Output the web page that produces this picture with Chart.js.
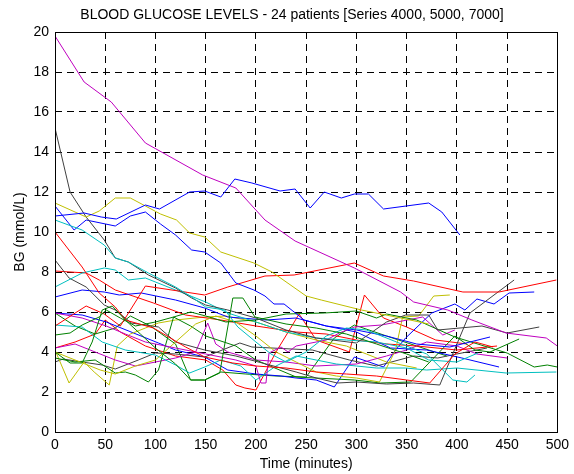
<!DOCTYPE html>
<html>
<head>
<meta charset="utf-8">
<title>Blood glucose levels</title>
<script src="https://cdn.jsdelivr.net/npm/chart.js@4.4.0/dist/chart.umd.min.js"></script>
<style>
    html, body { margin: 0; padding: 0; background: #fff; }
</style>
</head>
<body>
<canvas id="bgChart" width="574" height="474"></canvas>
<script>
// [time (min), BG (mmol/L)] per patient
const b1 = [[0,10.8],[29,10.95],[46,10.75],[61,10.65],[90,11.35],[104,11.15],[134,12.0],[149,12.05],[165,11.75],[179,12.65],[196,12.45],[224,12.05],[239,12.15],[254,11.2],[268,12.0],[285,11.7],[298,11.9],[312,11.9],[327,11.15],[372,11.45],[385,11.0],[403,9.85]];
const g1 = [[0,4.0],[15,3.45],[27,3.45],[37,4.5],[47,6.1],[57,6.3],[70,5.6],[85,4.9],[100,4.2],[120,3.4],[135,2.6],[149,2.6],[164,2.95],[177,6.7],[187,6.7],[199,5.75],[230,5.4],[260,5.2],[290,4.9],[320,4.4],[350,3.9],[372,3.5]];
const r1 = [[0,10.0],[27,8.25],[44,6.95],[60,6.25],[70,5.6],[98,5.2],[130,4.25],[149,3.75],[177,3.45],[200,3.3],[230,3.2],[260,3.0],[290,2.9],[320,2.8],[350,2.6],[373,2.45],[398,3.9],[418,4.5],[436,4.25]];
const c1 = [[0,10.6],[27,10.1],[49,9.35],[60,8.7],[73,8.5],[93,7.95],[120,7.25],[136,6.75],[150,6.25],[169,6.1],[182,5.25],[200,4.5],[215,3.9],[230,3.5],[250,4.0],[270,4.8],[290,5.2],[310,5.1],[340,4.5],[370,3.9],[396,2.6],[410,2.5],[418,2.85]];
const m1 = [[0,19.8],[29,17.5],[56,16.5],[90,14.45],[147,12.85],[180,12.2],[209,10.6],[239,9.55],[298,8.2],[344,7.0],[357,6.5],[391,6.1],[415,5.6],[449,4.95],[489,4.7],[500,4.3]];
const y1 = [[0,11.45],[31,10.75],[44,11.05],[60,11.7],[75,11.7],[105,10.9],[121,10.6],[134,9.95],[149,9.75],[165,9.0],[198,8.45],[216,8.0],[250,6.8],[265,6.6],[305,6.1],[344,5.7],[372,5.4]];
const k1 = [[0,15.2],[15,12.0],[31,10.75],[49,9.6],[60,8.7],[73,8.5],[93,7.85],[120,7.2],[136,6.7],[150,6.35],[172,6.1],[200,5.7],[230,5.1],[260,4.7],[300,4.45],[330,5.5],[349,5.85],[372,5.85],[381,5.1],[425,5.3],[450,4.95],[482,5.25]];
const b2 = [[0,11.3],[19,10.1],[31,10.6],[60,10.3],[75,10.8],[90,11.0],[105,10.4],[120,9.85],[136,9.1],[149,9.0],[165,8.45],[180,7.45],[198,7.1],[209,6.8],[218,6.4],[228,6.4],[248,5.6],[270,5.3],[300,5.1],[330,4.8],[360,4.4],[393,4.25],[433,4.75]];
const g2 = [[0,4.85],[15,4.95],[27,5.35],[44,5.75],[51,6.1],[65,5.7],[80,5.3],[100,5.5],[118,5.75],[135,6.0],[150,5.8],[170,5.5],[200,5.6],[230,5.9],[268,5.95],[300,6.05],[320,5.7],[330,5.9],[360,5.6],[398,4.75],[450,3.95],[477,3.25],[490,3.35],[500,3.25]];
const r2 = [[0,5.3],[31,6.3],[49,5.9],[65,5.3],[90,7.3],[149,6.85],[172,7.25],[209,7.8],[238,7.85],[298,8.45],[327,7.8],[357,7.55],[406,7.0],[442,7.0],[499,7.6]];
const c2 = [[0,7.25],[27,7.95],[49,8.2],[60,8.1],[73,7.6],[90,7.7],[120,7.1],[150,6.5],[172,5.95],[200,5.5],[230,5.0],[260,4.7],[290,4.6],[320,4.5],[350,4.2],[372,3.6],[400,3.5],[421,3.95]];
const m2 = [[0,5.95],[27,5.7],[51,5.3],[70,4.9],[90,4.5],[120,4.2],[150,3.9],[180,3.6],[200,3.3],[205,2.45],[210,2.45],[213,3.95],[225,4.25],[232,4.0],[240,4.3],[270,4.6],[283,4.95],[298,5.25],[325,5.35],[366,5.75],[386,4.85],[398,5.1]];
const y2 = [[0,4.0],[15,3.7],[30,3.4],[45,3.1],[60,2.9],[80,3.3],[100,3.6],[120,4.5],[140,5.4],[160,5.8],[180,5.5],[200,4.8],[220,4.0],[240,3.5],[260,3.0],[280,2.8],[300,2.7],[323,2.5],[339,4.1],[346,5.75],[362,5.8],[377,6.8],[393,6.85]];
const k2 = [[0,8.6],[14,7.7],[31,7.25],[49,6.35],[60,6.1],[76,5.45],[103,5.25],[120,4.5],[149,4.1],[180,3.8],[210,3.4],[240,3.0],[260,2.7],[281,2.45],[300,2.5],[330,2.4],[357,2.45],[383,2.35],[413,5.95],[457,7.6]];
const b3 = [[0,6.75],[27,7.1],[49,7.0],[64,6.85],[86,6.95],[120,6.6],[149,6.2],[172,5.75],[210,5.6],[240,5.7],[270,5.3],[300,5.0],[334,4.2],[370,4.1],[405,3.7],[442,3.25]];
const g3 = [[0,3.7],[20,3.5],[40,3.6],[60,2.95],[70,3.0],[80,2.85],[93,2.5],[103,3.1],[118,5.75],[135,5.3],[150,4.8],[180,4.3],[200,3.6],[240,2.75],[298,2.6],[324,2.45],[354,2.5],[398,4.8],[418,4.1],[433,4.0],[462,4.65]];
const r3 = [[0,8.05],[31,7.95],[44,7.6],[60,7.1],[98,6.45],[130,5.85],[165,5.6],[200,5.3],[240,5.0],[270,4.9],[300,4.6],[330,4.4],[360,4.3],[400,4.1],[440,4.3]];
const c3 = [[0,5.35],[27,5.25],[47,4.5],[70,4.1],[100,3.85],[120,3.35],[134,2.95],[149,3.25],[165,3.6],[185,3.3],[200,2.6],[220,3.3],[240,3.8],[260,3.6],[280,3.4],[300,3.3],[320,3.2],[349,3.2],[370,3.1],[400,3.2],[449,2.95],[499,3.0]];
const m3 = [[0,4.2],[20,4.4],[40,4.0],[60,3.6],[80,3.3],[100,3.5],[120,3.7],[140,4.0],[152,5.45],[160,4.4],[172,4.0],[200,3.6],[230,3.5],[260,3.3],[300,3.4],[330,3.8],[350,4.1],[370,4.5],[400,4.3],[420,3.9],[450,3.7]];
const y3 = [[0,4.1],[14,2.45],[29,3.5],[39,3.0],[54,2.35],[62,4.3],[75,4.9],[90,5.2],[103,5.45],[120,5.6],[149,5.75],[170,5.8],[200,5.5],[230,5.0],[260,4.6],[290,4.3],[310,3.9],[330,3.5],[360,3.2]];
const k3 = [[0,3.5],[8,3.65],[27,3.5],[47,3.35],[60,3.15],[83,3.6],[100,3.95],[120,3.9],[149,3.75],[184,4.45],[196,4.25],[256,4.1],[293,3.6],[320,3.3],[357,3.8],[381,3.7],[400,3.9],[430,4.2]];
const b4 = [[0,5.95],[27,5.85],[51,5.5],[103,4.45],[120,4.1],[149,3.75],[172,3.1],[200,2.9],[225,2.8],[240,2.7],[260,2.6],[278,2.25],[298,3.75],[327,3.25],[339,4.1],[349,4.7],[375,5.95],[398,6.4],[408,6.1],[420,6.65],[437,6.4],[452,6.95],[477,7.0]];
const g4 = [[0,5.95],[20,5.3],[40,4.9],[60,5.2],[75,5.8],[95,5.3],[120,4.4],[135,2.6],[149,2.6],[165,3.0],[190,2.9],[220,2.8],[250,2.75],[278,4.7],[298,5.35],[330,4.8],[360,4.3],[390,3.8]];
const r4 = [[0,4.2],[20,4.5],[40,4.9],[50,5.6],[65,5.0],[90,4.3],[120,3.8],[150,3.6],[167,3.1],[180,2.35],[189,2.2],[200,2.1],[220,4.0],[243,5.9],[260,4.6],[293,4.0],[308,6.85],[327,5.7],[350,5.25],[379,4.6],[410,4.4]];

const patients = [b1, g1, r1, c1, m1, y1, k1, b2, g2, r2, c2, m2, y2, k2, b3, g3, r3, c3, m3, y3, k3, b4, g4, r4];
const xTicks = [0, 500, 50];
const yTicks = [0, 20, 2];

// old MATLAB colour order: b g r c m y k
const lineColors = ['#0000ff', '#008000', '#ff0000', '#00bfbf', '#bf00bf', '#bfbf00', '#404040'];
const fontFamily = '"Liberation Sans", Arial, Helvetica, sans-serif';

const axesBox = {
    id: 'axesBox',
    afterDraw(chart) {
        const { ctx, chartArea: a } = chart;
        ctx.save();
        ctx.strokeStyle = '#000';
        ctx.lineWidth = 1;
        ctx.setLineDash([]);
        ctx.strokeRect(Math.round(a.left) + 0.5, Math.round(a.top) + 0.5,
            Math.round(a.right - a.left), Math.round(a.bottom - a.top));
        ctx.restore();
    }
};

Chart.defaults.font.family = fontFamily;
Chart.defaults.font.size = 14;
Chart.defaults.color = '#000';

new Chart(document.getElementById('bgChart'), {
    type: 'line',
    data: {
        datasets: patients.map((p, i) => ({
            data: p,
            borderColor: lineColors[i % lineColors.length],
            borderWidth: 1,
            pointRadius: 0,
            tension: 0,
            fill: false
        }))
    },
    options: {
        responsive: false,
        animation: false,
        layout: { padding: { left: 10, right: 0, top: 0, bottom: 0 } },
        plugins: {
            legend: { display: false },
            tooltip: { enabled: false },
            title: {
                display: true,
                text: 'BLOOD GLUCOSE LEVELS - 24 patients [Series 4000, 5000, 7000]',
                font: { size: 14, weight: 'normal', lineHeight: 1.2 },
                color: '#000',
                padding: { top: 6.5, bottom: 8.7 }
            }
        },
        scales: {
            x: {
                type: 'linear',
                min: xTicks[0],
                max: xTicks[1],
                ticks: { stepSize: xTicks[2], padding: 5, maxRotation: 0 },
                grid: { color: '#000', lineWidth: 1, drawTicks: false },
                border: { display: false, dash: [7, 5] },
                title: { display: true, text: 'Time (minutes)', padding: { top: 0, bottom: 1.6 } },
                afterFit(scale) { scale.height = 42; }
            },
            y: {
                min: yTicks[0],
                max: yTicks[1],
                ticks: { stepSize: yTicks[2], padding: 6 },
                grid: { color: '#000', lineWidth: 1, drawTicks: false },
                border: { display: false, dash: [7, 5] },
                title: { display: true, text: 'BG (mmol/L)', padding: { top: 1.6, bottom: 0 } },
                afterFit(scale) { scale.width = 45; }
            }
        }
    },
    plugins: [axesBox]
});
</script>
</body>
</html>
